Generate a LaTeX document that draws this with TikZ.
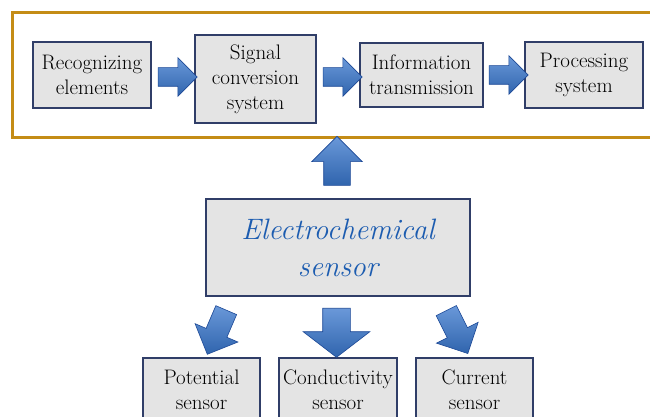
\documentclass[tikz,border=0pt]{standalone}
\usepackage{fontspec}
\usetikzlibrary{shapes.arrows,calc}
\definecolor{framegold}{RGB}{196,140,22}
\definecolor{boxgray}{RGB}{228,228,228}
\definecolor{boxedge}{RGB}{48,62,104}
\definecolor{arrowblue}{RGB}{56,118,204}
\definecolor{arrowedge}{RGB}{28,72,150}
\definecolor{sensorblue}{RGB}{28,92,176}
\newlength{\boxtext}
\setlength{\boxtext}{21pt}

\begin{document}
\begin{tikzpicture}[x=1pt,y=-1pt,
    blk/.style={draw=boxedge,fill=boxgray,line width=1.1pt,inner sep=0pt,align=center,
      font=\fontsize{\boxtext}{25pt}\selectfont},
    barrow/.style={single arrow,draw=arrowedge,line width=0.6pt,inner xsep=0pt,
      top color=arrowblue!75!white,bottom color=arrowblue!85!black},
    hflow/.style={barrow,minimum height=39pt,inner ysep=9pt,single arrow head extend=10pt},
    upflow/.style={barrow,minimum height=49pt,inner ysep=13pt,single arrow head extend=12pt,rotate=90},
    downflow/.style={barrow,minimum height=49pt,inner ysep=13.5pt,single arrow head extend=19.5pt,
      single arrow tip angle=105,rotate=270},
    slantflow/.style={barrow,minimum height=48pt,inner ysep=11pt,single arrow head extend=12pt}]
  \fill[white] (0,0) rectangle (650,417);
  \useasboundingbox (0,0) rectangle (650,417);
  % top chain
  \draw[framegold,line width=3pt] (12,13) rectangle (668,137);
  \node[blk,minimum width=118pt,minimum height=66pt] (rec) at (92,75) {Recognizing\\elements};
  \node[blk,minimum width=121pt,minimum height=88pt] (sig) at (255.5,79) {Signal\\conversion\\system};
  \node[blk,minimum width=123pt,minimum height=64pt] (inf) at (421.5,75) {Information\\transmission};
  \node[blk,minimum width=118pt,minimum height=66pt] (pro) at (584,75) {Processing\\system};
  \node[hflow] (a1) at ($(rec.east)!0.5!(sig.west)$) {};
  \node[hflow] (a2) at ($(sig.east)!0.5!(inf.west)$) {};
  \node[hflow] (a3) at ($(inf.east)!0.5!(pro.west)$) {};
  % sensor and its kinds
  \node[blk,minimum width=264pt,minimum height=97pt,text=sensorblue,
    font=\fontsize{29.5pt}{37pt}\selectfont\itshape] (ecs) at (338,247.5) {Electrochemical\\sensor};
  \node[upflow] (up) at (337,167.5) {};
  \node[blk,minimum width=117pt,minimum height=64pt] (pot) at (201.5,390) {Potential\\sensor};
  \node[blk,minimum width=118pt,minimum height=64pt] (con) at (338,390) {Conductivity\\sensor};
  \node[blk,minimum width=117pt,minimum height=64pt] (cur) at (474.5,390) {Current\\sensor};
  \node[slantflow,rotate=246.8] (d1) at (219,327) {};
  \node[downflow] (d2) at (336.5,327.5) {};
  \node[slantflow,rotate=296.6] (d3) at (454.5,327) {};
\end{tikzpicture}
\end{document}
